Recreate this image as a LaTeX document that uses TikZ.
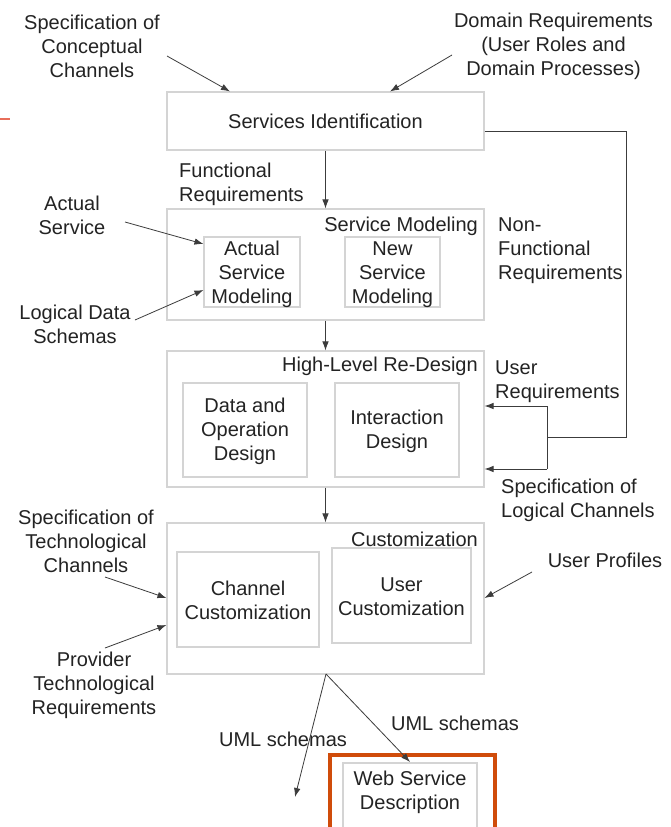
\documentclass[tikz,border=0pt]{standalone}
\usepackage{fontspec}
\setmainfont{Liberation Sans}
\usetikzlibrary{arrows.meta,calc}
\definecolor{txt}{RGB}{35,35,35}
\definecolor{boxc}{RGB}{212,212,212}
\definecolor{arr}{RGB}{60,60,60}
\definecolor{org}{RGB}{208,76,10}
\definecolor{salmon}{RGB}{232,110,90}
\begin{document}
\begin{tikzpicture}[x=1pt,y=-1pt,
  font=\fontsize{20}{24}\selectfont, text=txt,
  box/.style={draw=boxc, line width=1.1pt, rectangle, inner sep=0pt, align=center},
  lbl/.style={align=center, inner sep=0pt},
  lbll/.style={align=left, inner sep=0pt, anchor=west},
  conn/.style={draw=arr, line width=0.8pt, -{Latex[length=9pt,width=6.5pt]}},
  plain/.style={draw=arr, line width=0.8pt}]
\useasboundingbox (0,0) rectangle (670,827);
\clip (0,0) rectangle (670,827);
\fill[white] (0,0) rectangle (670,827);

% orange mark at left
\draw[salmon, line width=1.2pt] (0,119) -- (10,119);

% boxes
\node[box, minimum width=317pt, minimum height=58pt] (si) at (325.5,121) {Services Identification};
\node[box, minimum width=317pt, minimum height=111pt] (sm) at (325.5,264.5) {};
\node[lbl, anchor=east] (smt) at (478,226) {Service Modeling};
\node[box, minimum width=96pt, minimum height=70pt] (asm) at (252,272) {};
\node[lbl] (asmt) at (252,274) {Actual\\Service\\Modeling};
\node[box, minimum width=95pt, minimum height=70pt] (nsm) at (392.5,272) {};
\node[lbl] (nsmt) at (392.5,275) {New\\Service\\Modeling};

\node[box, minimum width=317pt, minimum height=136pt] (hl) at (325.5,419) {};
\node[lbl, anchor=east] (hlt) at (478,366) {High-Level Re-Design};
\node[box, minimum width=124pt, minimum height=94pt] (dod) at (245,430) {};
\node[lbl] (dodt) at (245,431) {Data and\\Operation\\Design};
\node[box, minimum width=124pt, minimum height=94pt] (idn) at (397,430) {};
\node[lbl] (idnt) at (397,431) {Interaction\\Design};

\node[box, minimum width=317pt, minimum height=151pt] (cu) at (325.5,598.5) {};
\node[lbl, anchor=east] (cut) at (478,539) {Customization};
\node[box, minimum width=142pt, minimum height=95pt] (cc) at (248,599.5) {};
\node[lbl] (cct) at (248,600) {Channel\\Customization};
\node[box, minimum width=139pt, minimum height=95pt] (uc) at (401.5,595.5) {};
\node[lbl] (uct) at (401.5,597) {User\\Customization};

% web service description
\node[draw=org, line width=4pt, minimum width=165pt, minimum height=100pt, inner sep=0pt] (orb) at (412.5,805) {};
\node[box, minimum width=134pt, minimum height=90pt] (wsd) at (410,808) {};
\node[lbl] (wsdt) at (410,792) {Web Service\\Description};

% labels
\node[lbl] (scc) at (92,46) {Specification of\\Conceptual\\Channels};
\node[lbl] (dr) at (553.5,46) {Domain Requirements\\(User Roles and\\Domain Processes)};
\node[lbll] (fr) at (179,184) {Functional\\Requirements};
\node[lbl] (as) at (72,215) {Actual\\Service};
\node[lbl] (lds) at (75,324) {Logical Data\\Schemas};
\node[lbll] (nfr) at (498,251) {Non-\\Functional\\Requirements};
\node[lbll] (ur) at (495,382) {User\\Requirements};
\node[lbll] (slc) at (501,500) {Specification of\\Logical Channels};
\node[lbl] (stc) at (86,541) {Specification of\\Technological\\Channels};
\node[lbl] (ptr) at (94,685) {Provider\\Technological\\Requirements};
\node[lbl] (up) at (605,560) {User Profiles};
\node[lbl] (uml1) at (283,739) {UML schemas};
\node[lbl] (uml2) at (455,723) {UML schemas};

% connector coordinates
\coordinate (scc1) at (167,56);
\coordinate (dr1) at (452,55);
\coordinate (as1) at (125,222);
\coordinate (lds1) at (135,320);
\coordinate (stc1) at (105,577);
\coordinate (ptr1) at (105,648);
\coordinate (up1) at (532,572);
\coordinate (rc) at (626,437);
\coordinate (jn) at (547,437);
\coordinate (jt) at (547,406);
\coordinate (jb) at (547,469);
\coordinate (cub) at (326,674);
\coordinate (umlend) at (295,797);
\coordinate (wsdtop) at (410,762);

% connectors
\draw[conn] (scc1) -- (si.north -| 230,0);
\draw[conn] (dr1) -- (si.north -| 390,0);
\draw[conn] (si.south) -- (sm.north);
\draw[conn] (as1) -- ($(asm.west)+(0,-28)$);
\draw[conn] (lds1) -- ($(asm.west)+(0,18)$);
\draw[conn] (sm.south) -- (hl.north);
\draw[conn] (hl.south) -- (cu.north);
\draw[plain] ($(si.east)+(0,10)$) -| (rc) -- (jn);
\draw[plain] (jt) -- (jb);
\draw[conn] (jt) -- (hl.east |- jt);
\draw[conn] (jb) -- (hl.east |- jb);
\draw[conn] (stc1) -- ($(cu.west)+(0,-0.5)$);
\draw[conn] (ptr1) -- ($(cu.west)+(0,26.5)$);
\draw[conn] (up1) -- ($(cu.east)+(0,-0.5)$);
\draw[conn] (cub) -- (umlend);
\draw[conn] (cub) -- (wsdtop);
\end{tikzpicture}
\end{document}
